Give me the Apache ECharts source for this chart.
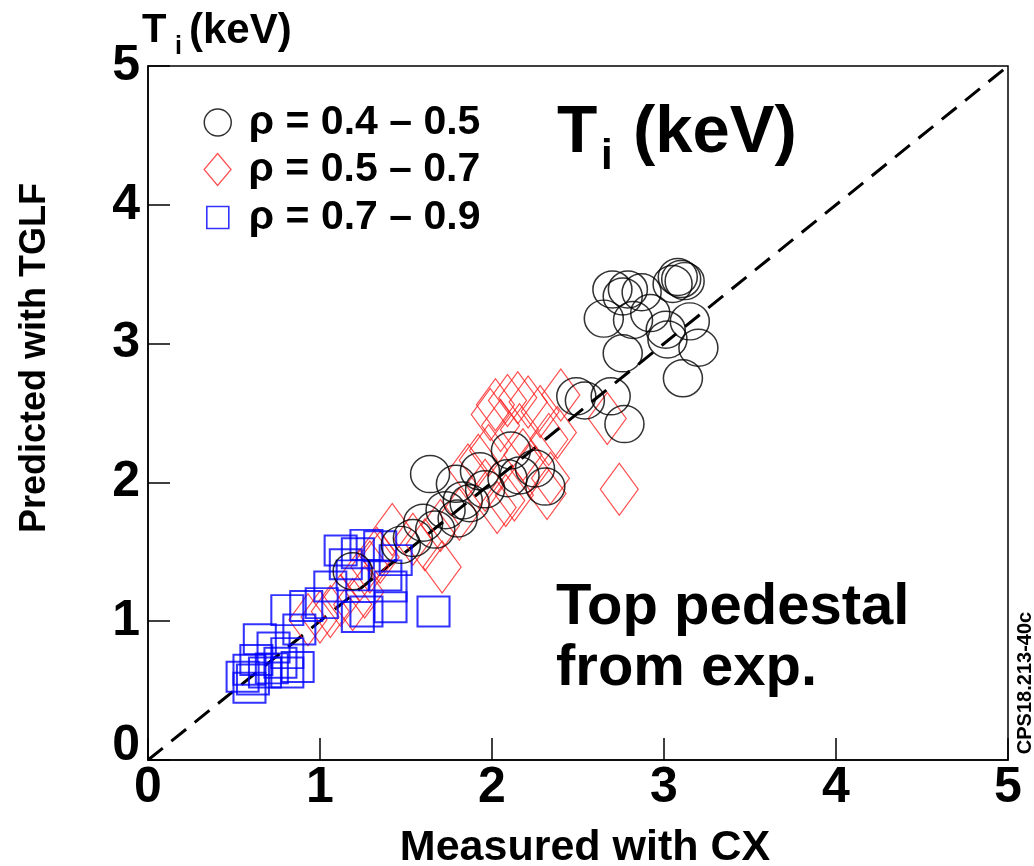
<!DOCTYPE html>
<html>
<head>
<meta charset="utf-8">
<script src="https://cdn.jsdelivr.net/npm/echarts@6/dist/echarts.min.js"></script>
<style>
  html, body { margin: 0; padding: 0; background: #fff; }
  #chart { width: 1034px; height: 866px; }
</style>
</head>
<body>
<div id="chart"></div>
<script>
// Ion temperature: measured (CX) vs predicted (TGLF), keV
const seriesNames = ['ρ = 0.4 – 0.5', 'ρ = 0.5 – 0.7', 'ρ = 0.7 – 0.9'];

// rho 0.4 - 0.5 (open circles)
const rhoInner = [
  [3.08, 3.48], [3.10, 3.465], [3.12, 3.45], [3.05, 3.43],
  [2.70, 3.39], [2.79, 3.39], [2.87, 3.37], [2.76, 3.34],
  [2.65, 3.18], [2.82, 3.17], [3.01, 3.10], [3.15, 3.16], [2.92, 3.22],
  [2.76, 2.93], [3.20, 2.97], [3.02, 3.03], [3.11, 2.75],
  [2.49, 2.62], [2.54, 2.59], [2.69, 2.62], [2.77, 2.42],
  [2.11, 2.23], [2.25, 2.10], [2.31, 1.97], [2.09, 2.03], [2.16, 2.05],
  [1.93, 2.08], [1.79, 1.99], [1.64, 2.06], [1.96, 1.95], [1.83, 1.87],
  [1.87, 1.85], [1.73, 1.80], [1.80, 1.74], [1.60, 1.71], [1.67, 1.66],
  [1.54, 1.60], [1.47, 1.55], [1.19, 1.36]
];

// rho 0.5 - 0.7 (open diamonds)
const rhoMid = [
  [2.02, 2.56], [2.09, 2.59], [2.15, 2.61], [2.21, 2.58], [2.28, 2.51],
  [2.40, 2.63], [1.99, 2.49], [2.05, 2.41], [2.16, 2.38], [2.33, 2.31],
  [2.38, 2.36], [1.92, 2.16], [1.98, 2.23], [2.18, 2.20], [2.08, 1.87],
  [2.13, 1.91], [2.03, 1.82], [2.32, 1.92], [2.34, 2.03], [2.22, 2.09],
  [1.96, 1.98], [1.86, 2.09], [2.67, 2.46], [2.74, 1.95],
  [1.71, 1.39], [1.54, 1.59], [1.42, 1.66], [1.35, 1.46], [1.29, 1.39],
  [1.26, 1.21], [1.33, 1.49], [1.23, 1.33], [1.19, 1.12], [1.00, 1.03],
  [1.06, 1.07], [1.12, 1.15], [0.93, 1.01], [1.81, 1.77], [1.70, 1.69],
  [1.61, 1.55]
];

// rho 0.7 - 0.9 (open squares)
const rhoOuter = [
  [1.12, 1.51], [1.22, 1.49], [1.35, 1.54], [1.27, 1.55], [1.19, 1.33],
  [1.06, 1.25], [1.01, 1.13], [0.81, 1.08], [0.92, 1.11], [1.22, 1.03],
  [1.27, 1.07], [1.41, 1.25], [1.41, 1.10], [1.66, 1.07], [0.88, 0.94],
  [0.65, 0.87], [0.73, 0.81], [0.81, 0.77], [0.59, 0.65], [0.63, 0.72],
  [0.77, 0.70], [0.81, 0.63], [0.87, 0.67], [0.55, 0.60], [0.61, 0.58],
  [0.59, 0.52], [0.68, 0.63], [0.72, 0.66], [1.15, 1.41], [1.38, 1.33],
  [1.44, 1.44]
];

// y = x reference
const diagonal = [[0, 0], [5, 5]];

const axisMin = 0, axisMax = 5, axisStep = 1;

const FONT = 'Liberation Sans, Arial, sans-serif';

const chart = echarts.init(document.getElementById('chart'), null, { renderer: 'canvas' });

const hollow = (c, w) => ({ color: 'rgba(0,0,0,0)', borderColor: c, borderWidth: w });

function legendRow(name, icon, top, w, h, style) {
  return {
    data: [{ name: name, icon: icon }],
    left: 212 - w / 2, top: top - 21,
    itemWidth: w, itemHeight: h,
    symbolKeepAspect: false,
    itemStyle: style,
    selectedMode: false,
    textStyle: {
      fontFamily: FONT, fontWeight: 'bold', fontSize: 41, color: '#000',
      padding: [0, 0, 0, 243 - (212 + w / 2) - 5]
    }
  };
}

const tickFont = { fontFamily: FONT, fontWeight: 'bold', fontSize: 50, color: '#000' };

const option = {
  animation: false,
  backgroundColor: '#fff',
  grid: {
    left: 148, right: 26, top: 66, bottom: 106,
    outerBoundsMode: 'none', containLabel: false,
    show: true, borderColor: '#000', borderWidth: 1.5, backgroundColor: 'transparent'
  },
  legend: [
    legendRow(seriesNames[0], 'circle', 118, 27, 27, hollow('#000', 1.5)),
    legendRow(seriesNames[1], 'diamond', 165, 27, 32, hollow('#ff2020', 1.2)),
    legendRow(seriesNames[2], 'rect', 213, 22, 22, hollow('#0000ff', 1.6))
  ],
  xAxis: {
    type: 'value', min: axisMin, max: axisMax, interval: axisStep,
    name: 'Measured with CX', nameLocation: 'middle', nameGap: 67,
    nameTextStyle: { fontFamily: FONT, fontWeight: 'bold', fontSize: 43, color: '#000', padding: [0, 0, 0, 14] },
    axisLine: { show: true, lineStyle: { color: '#000', width: 1.5 } },
    axisTick: { show: true, inside: true, length: 22, lineStyle: { color: '#000', width: 1.5 } },
    axisLabel: Object.assign({ margin: 3 }, tickFont),
    splitLine: { show: false }
  },
  yAxis: {
    type: 'value', min: axisMin, max: axisMax, interval: axisStep,
    axisLine: { show: true, lineStyle: { color: '#000', width: 1.5 } },
    axisTick: { show: true, inside: true, length: 22, lineStyle: { color: '#000', width: 1.5 } },
    axisLabel: Object.assign({
      margin: 8,
      // lift the origin label clear of the x-axis "0"
      formatter: v => (v === 0 ? '{origin|0}' : String(v)),
      rich: { origin: Object.assign({ padding: [0, 0, 28, 0] }, tickFont) }
    }, tickFont),
    splitLine: { show: false }
  },
  series: [
    {
      name: 'y = x', type: 'line', data: diagonal, symbol: 'none', silent: true,
      lineStyle: { color: '#000', width: 3, type: [19, 11] }, z: 1
    },
    {
      name: seriesNames[1], type: 'scatter', data: rhoMid,
      symbol: 'diamond', symbolSize: [38, 52],
      itemStyle: hollow('#ff2020', 1.2), z: 2
    },
    {
      name: seriesNames[2], type: 'scatter', data: rhoOuter,
      symbol: 'rect', symbolSize: [32, 30],
      itemStyle: hollow('#0000ff', 2), z: 3
    },
    {
      name: seriesNames[0], type: 'scatter', data: rhoInner,
      symbol: 'circle', symbolSize: [39, 37],
      itemStyle: hollow('#000', 1.5), z: 4
    }
  ],
  graphic: [
    // y-axis title
    { type: 'text', x: 35, y: 358, rotation: Math.PI / 2,
      style: { text: 'Predicted with TGLF', fontFamily: FONT, fontWeight: 'bold', fontSize: 36, fill: '#000', align: 'center', verticalAlign: 'middle' } },
    // unit label above the y axis
    { type: 'text', x: 142, y: 31,
      style: { text: 'T', fontFamily: FONT, fontWeight: 'bold', fontSize: 40, fill: '#000', align: 'left', verticalAlign: 'middle' } },
    { type: 'text', x: 175, y: 47,
      style: { text: 'i', fontFamily: FONT, fontWeight: 'bold', fontSize: 25, fill: '#000', align: 'left', verticalAlign: 'middle' } },
    { type: 'text', x: 189, y: 31,
      style: { text: '(keV)', fontFamily: FONT, fontWeight: 'bold', fontSize: 42, fill: '#000', align: 'left', verticalAlign: 'middle' } },
    // panel title
    { type: 'text', x: 557, y: 134,
      style: { text: 'T', fontFamily: FONT, fontWeight: 'bold', fontSize: 66, fill: '#000', align: 'left', verticalAlign: 'middle' } },
    { type: 'text', x: 601, y: 157,
      style: { text: 'i', fontFamily: FONT, fontWeight: 'bold', fontSize: 42, fill: '#000', align: 'left', verticalAlign: 'middle' } },
    { type: 'text', x: 633, y: 134,
      style: { text: '(keV)', fontFamily: FONT, fontWeight: 'bold', fontSize: 67, fill: '#000', align: 'left', verticalAlign: 'middle' } },
    // annotation
    { type: 'text', x: 556, y: 608,
      style: { text: 'Top pedestal', fontFamily: FONT, fontWeight: 'bold', fontSize: 58, fill: '#000', align: 'left', verticalAlign: 'middle' } },
    { type: 'text', x: 556, y: 669,
      style: { text: 'from exp.', fontFamily: FONT, fontWeight: 'bold', fontSize: 58, fill: '#000', align: 'left', verticalAlign: 'middle' } },
    // figure id
    { type: 'text', x: 1025, y: 683, rotation: Math.PI / 2,
      style: { text: 'CPS18.213-40c', fontFamily: FONT, fontWeight: 'bold', fontSize: 20, fill: '#000', align: 'center', verticalAlign: 'middle' } }
  ]
};

chart.setOption(option);
</script>
</body>
</html>
